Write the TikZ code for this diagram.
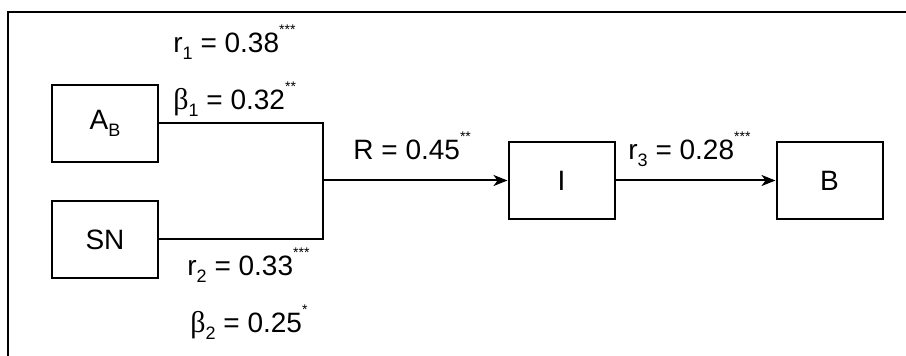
\documentclass[tikz,border=0pt]{standalone}
\usepackage{fontspec}
\setmainfont{Liberation Sans}
\newfontfamily\grk{Liberation Serif}
\usetikzlibrary{arrows.meta}
\newcommand{\sbs}[1]{\raisebox{-3.5pt}{\fontsize{9}{9}\selectfont #1}}
\newcommand{\sps}[1]{\raisebox{9pt}{\fontsize{7}{7}\selectfont #1}}
\newcommand{\bet}{{\grk\fontsize{15}{16}\selectfont β}}
\begin{document}
\begin{tikzpicture}[x=0.5pt,y=-0.5pt,
  font=\fontsize{14}{16}\selectfont,
  box/.style={draw, line width=1pt, minimum width=53pt, minimum height=38.5pt, inner sep=0},
  lab/.style={anchor=base west, inner sep=0},
  conn/.style={line width=1pt},
  arr/.style={conn, -{Stealth[length=7pt,width=5.5pt,inset=2pt]}}]
\useasboundingbox (0,0) rectangle (906,356);
\draw[line width=1pt] (8,356) -- (8,12) -- (906,12);

\node[box] (ab) at (105,123.5) {A\sbs{B}};
\node[box] (sn) at (105,239.5) {SN};
\node[box] (i)  at (561.5,180.5) {I};
\node[box] (b)  at (829.5,180.5) {B};

\coordinate (j) at (323,180.5);
\draw[conn] (ab.east) -| (j);
\draw[conn] (sn.east) -| (j);
\draw[arr] (j) -- (i.west);
\draw[arr] (i.east) -- (b.west);

\node[lab] (l1) at (173,53) {r\sbs{1} = 0.38\sps{***}};
\node[lab] (l2) at (173,110) {\bet\sbs{1} = 0.32\sps{**}};
\node[lab] (l3) at (353,160) {R = 0.45\sps{**}};
\node[lab] (l4) at (628,160) {r\sbs{3} = 0.28\sps{***}};
\node[lab] (l5) at (187,276) {r\sbs{2} = 0.33\sps{***}};
\node[lab] (l6) at (190,333) {\bet\sbs{2} = 0.25\sps{*}};
\end{tikzpicture}
\end{document}
